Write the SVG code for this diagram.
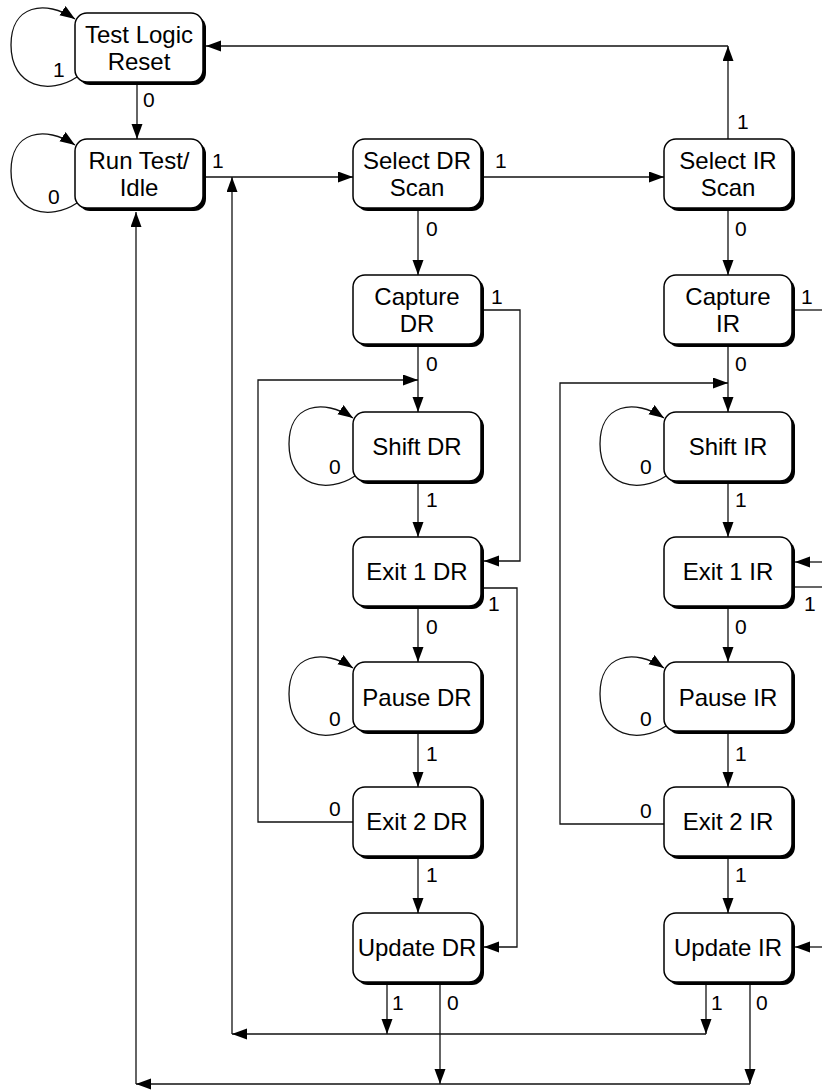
<svg xmlns="http://www.w3.org/2000/svg" width="822" height="1090" viewBox="0 0 822 1090">
<defs>
<style>
.shadow{fill:#000}
.box{fill:#fff;stroke:#000;stroke-width:1.5}
.t{font-family:"Liberation Sans",Arial,Helvetica,sans-serif;font-size:24px;fill:#000;text-anchor:middle}
.l{font-family:"Liberation Sans",Arial,Helvetica,sans-serif;font-size:21px;fill:#000}
.c{fill:none;stroke:#111;stroke-width:1.3}
.a{marker-end:url(#arr)}
</style>
<marker id="arr" markerUnits="userSpaceOnUse" markerWidth="16" markerHeight="12" refX="15" refY="5.5" orient="auto">
<path d="M0,0 L15,5.5 L0,11 z" fill="#000"/>
</marker>
</defs>
<rect width="822" height="1090" fill="#fff"/>

<g id="connectors">
<path class="c a" d="M77,77 C50,95 11,88 11,45 C11,5 45,-1 75,19"/>
<path class="c a" d="M77,203 C50,221 11,214 11,171 C11,131 45,125 75,145"/>
<path class="c a" d="M355,476 C328,494 289,487 289,444 C289,404 323,398 353,418"/>
<path class="c a" d="M666,476 C639,494 600,487 600,444 C600,404 634,398 664,418"/>
<path class="c a" d="M355,726 C328,744 289,737 289,694 C289,654 323,648 353,668"/>
<path class="c a" d="M666,726 C639,744 600,737 600,694 C600,654 634,648 664,668"/>
<path class="c a" d="M137,85 V139"/>
<path class="c a" d="M206,177 H353"/>
<path class="c a" d="M484,177 H664"/>
<path class="c a" d="M728,139 V46"/>
<path class="c a" d="M728,46 H206"/>
<path class="c a" d="M418,211 V275"/>
<path class="c a" d="M728,211 V275"/>
<path class="c a" d="M484,310 H520 V561 H484"/>
<path class="c" d="M795,310 H822"/>
<path class="c a" d="M418,347 V412"/>
<path class="c a" d="M728,347 V412"/>
<path class="c a" d="M418,484 V537"/>
<path class="c a" d="M728,484 V537"/>
<path class="c a" d="M484,588 H517 V947 H484"/>
<path class="c a" d="M822,562 H795"/>
<path class="c" d="M795,587 H822"/>
<path class="c a" d="M418,609 V662"/>
<path class="c a" d="M728,609 V662"/>
<path class="c a" d="M418,734 V787"/>
<path class="c a" d="M728,734 V787"/>
<path class="c a" d="M353,822 H258 V380 H418"/>
<path class="c a" d="M664,824 H560 V383 H728"/>
<path class="c a" d="M418,859 V913"/>
<path class="c a" d="M728,859 V913"/>
<path class="c a" d="M822,947 H795"/>
<path class="c a" d="M387,985 V1034"/>
<path class="c a" d="M706,985 V1034"/>
<path class="c a" d="M706,1034 H232"/>
<path class="c a" d="M232,1034 V177"/>
<path class="c a" d="M440,985 V1084"/>
<path class="c a" d="M750,985 V1084"/>
<path class="c a" d="M750,1084 H136"/>
<path class="c a" d="M136,1084 V212"/>
<text class="l" x="53" y="77">1</text>
<text class="l" x="143" y="107">0</text>
<text class="l" x="48" y="204">0</text>
<text class="l" x="212" y="168">1</text>
<text class="l" x="495" y="168">1</text>
<text class="l" x="737" y="129">1</text>
<text class="l" x="426" y="236">0</text>
<text class="l" x="735" y="236">0</text>
<text class="l" x="491" y="304">1</text>
<text class="l" x="801" y="304">1</text>
<text class="l" x="426" y="371">0</text>
<text class="l" x="735" y="371">0</text>
<text class="l" x="329" y="474">0</text>
<text class="l" x="640" y="474">0</text>
<text class="l" x="426" y="507">1</text>
<text class="l" x="735" y="507">1</text>
<text class="l" x="488" y="611">1</text>
<text class="l" x="804" y="611">1</text>
<text class="l" x="426" y="634">0</text>
<text class="l" x="735" y="634">0</text>
<text class="l" x="329" y="726">0</text>
<text class="l" x="640" y="726">0</text>
<text class="l" x="426" y="761">1</text>
<text class="l" x="735" y="761">1</text>
<text class="l" x="329" y="816">0</text>
<text class="l" x="640" y="818">0</text>
<text class="l" x="426" y="882">1</text>
<text class="l" x="735" y="882">1</text>
<text class="l" x="392" y="1010">1</text>
<text class="l" x="711" y="1010">1</text>
<text class="l" x="447" y="1010">0</text>
<text class="l" x="756" y="1010">0</text>
</g>

<g id="test-logic-reset"><rect class="shadow" x="78" y="16" width="128" height="69" rx="12"/><rect class="box" x="75" y="13" width="128" height="69" rx="12"/><text class="t" x="139" y="43">Test Logic</text><text class="t" x="139" y="70">Reset</text></g>
<g id="run-test-idle"><rect class="shadow" x="78" y="142" width="128" height="69" rx="12"/><rect class="box" x="75" y="139" width="128" height="69" rx="12"/><text class="t" x="139" y="169">Run Test/</text><text class="t" x="139" y="196">Idle</text></g>
<g id="select-dr-scan"><rect class="shadow" x="356" y="142" width="128" height="69" rx="12"/><rect class="box" x="353" y="139" width="128" height="69" rx="12"/><text class="t" x="417" y="169">Select DR</text><text class="t" x="417" y="196">Scan</text></g>
<g id="select-ir-scan"><rect class="shadow" x="667" y="142" width="128" height="69" rx="12"/><rect class="box" x="664" y="139" width="128" height="69" rx="12"/><text class="t" x="728" y="169">Select IR</text><text class="t" x="728" y="196">Scan</text></g>
<g id="capture-dr"><rect class="shadow" x="356" y="278" width="128" height="69" rx="12"/><rect class="box" x="353" y="275" width="128" height="69" rx="12"/><text class="t" x="417" y="305">Capture</text><text class="t" x="417" y="332">DR</text></g>
<g id="capture-ir"><rect class="shadow" x="667" y="278" width="128" height="69" rx="12"/><rect class="box" x="664" y="275" width="128" height="69" rx="12"/><text class="t" x="728" y="305">Capture</text><text class="t" x="728" y="332">IR</text></g>
<g id="shift-dr"><rect class="shadow" x="356" y="415" width="128" height="69" rx="12"/><rect class="box" x="353" y="412" width="128" height="69" rx="12"/><text class="t" x="417" y="455">Shift DR</text></g>
<g id="shift-ir"><rect class="shadow" x="667" y="415" width="128" height="69" rx="12"/><rect class="box" x="664" y="412" width="128" height="69" rx="12"/><text class="t" x="728" y="455">Shift IR</text></g>
<g id="exit1-dr"><rect class="shadow" x="356" y="540" width="128" height="69" rx="12"/><rect class="box" x="353" y="537" width="128" height="69" rx="12"/><text class="t" x="417" y="580">Exit 1 DR</text></g>
<g id="exit1-ir"><rect class="shadow" x="667" y="540" width="128" height="69" rx="12"/><rect class="box" x="664" y="537" width="128" height="69" rx="12"/><text class="t" x="728" y="580">Exit 1 IR</text></g>
<g id="pause-dr"><rect class="shadow" x="356" y="665" width="128" height="69" rx="12"/><rect class="box" x="353" y="662" width="128" height="69" rx="12"/><text class="t" x="417" y="706">Pause DR</text></g>
<g id="pause-ir"><rect class="shadow" x="667" y="665" width="128" height="69" rx="12"/><rect class="box" x="664" y="662" width="128" height="69" rx="12"/><text class="t" x="728" y="706">Pause IR</text></g>
<g id="exit2-dr"><rect class="shadow" x="356" y="790" width="128" height="69" rx="12"/><rect class="box" x="353" y="787" width="128" height="69" rx="12"/><text class="t" x="417" y="830">Exit 2 DR</text></g>
<g id="exit2-ir"><rect class="shadow" x="667" y="790" width="128" height="69" rx="12"/><rect class="box" x="664" y="787" width="128" height="69" rx="12"/><text class="t" x="728" y="830">Exit 2 IR</text></g>
<g id="update-dr"><rect class="shadow" x="356" y="916" width="128" height="69" rx="12"/><rect class="box" x="353" y="913" width="128" height="69" rx="12"/><text class="t" x="417" y="956">Update DR</text></g>
<g id="update-ir"><rect class="shadow" x="667" y="916" width="128" height="69" rx="12"/><rect class="box" x="664" y="913" width="128" height="69" rx="12"/><text class="t" x="728" y="956">Update IR</text></g>
</svg>
